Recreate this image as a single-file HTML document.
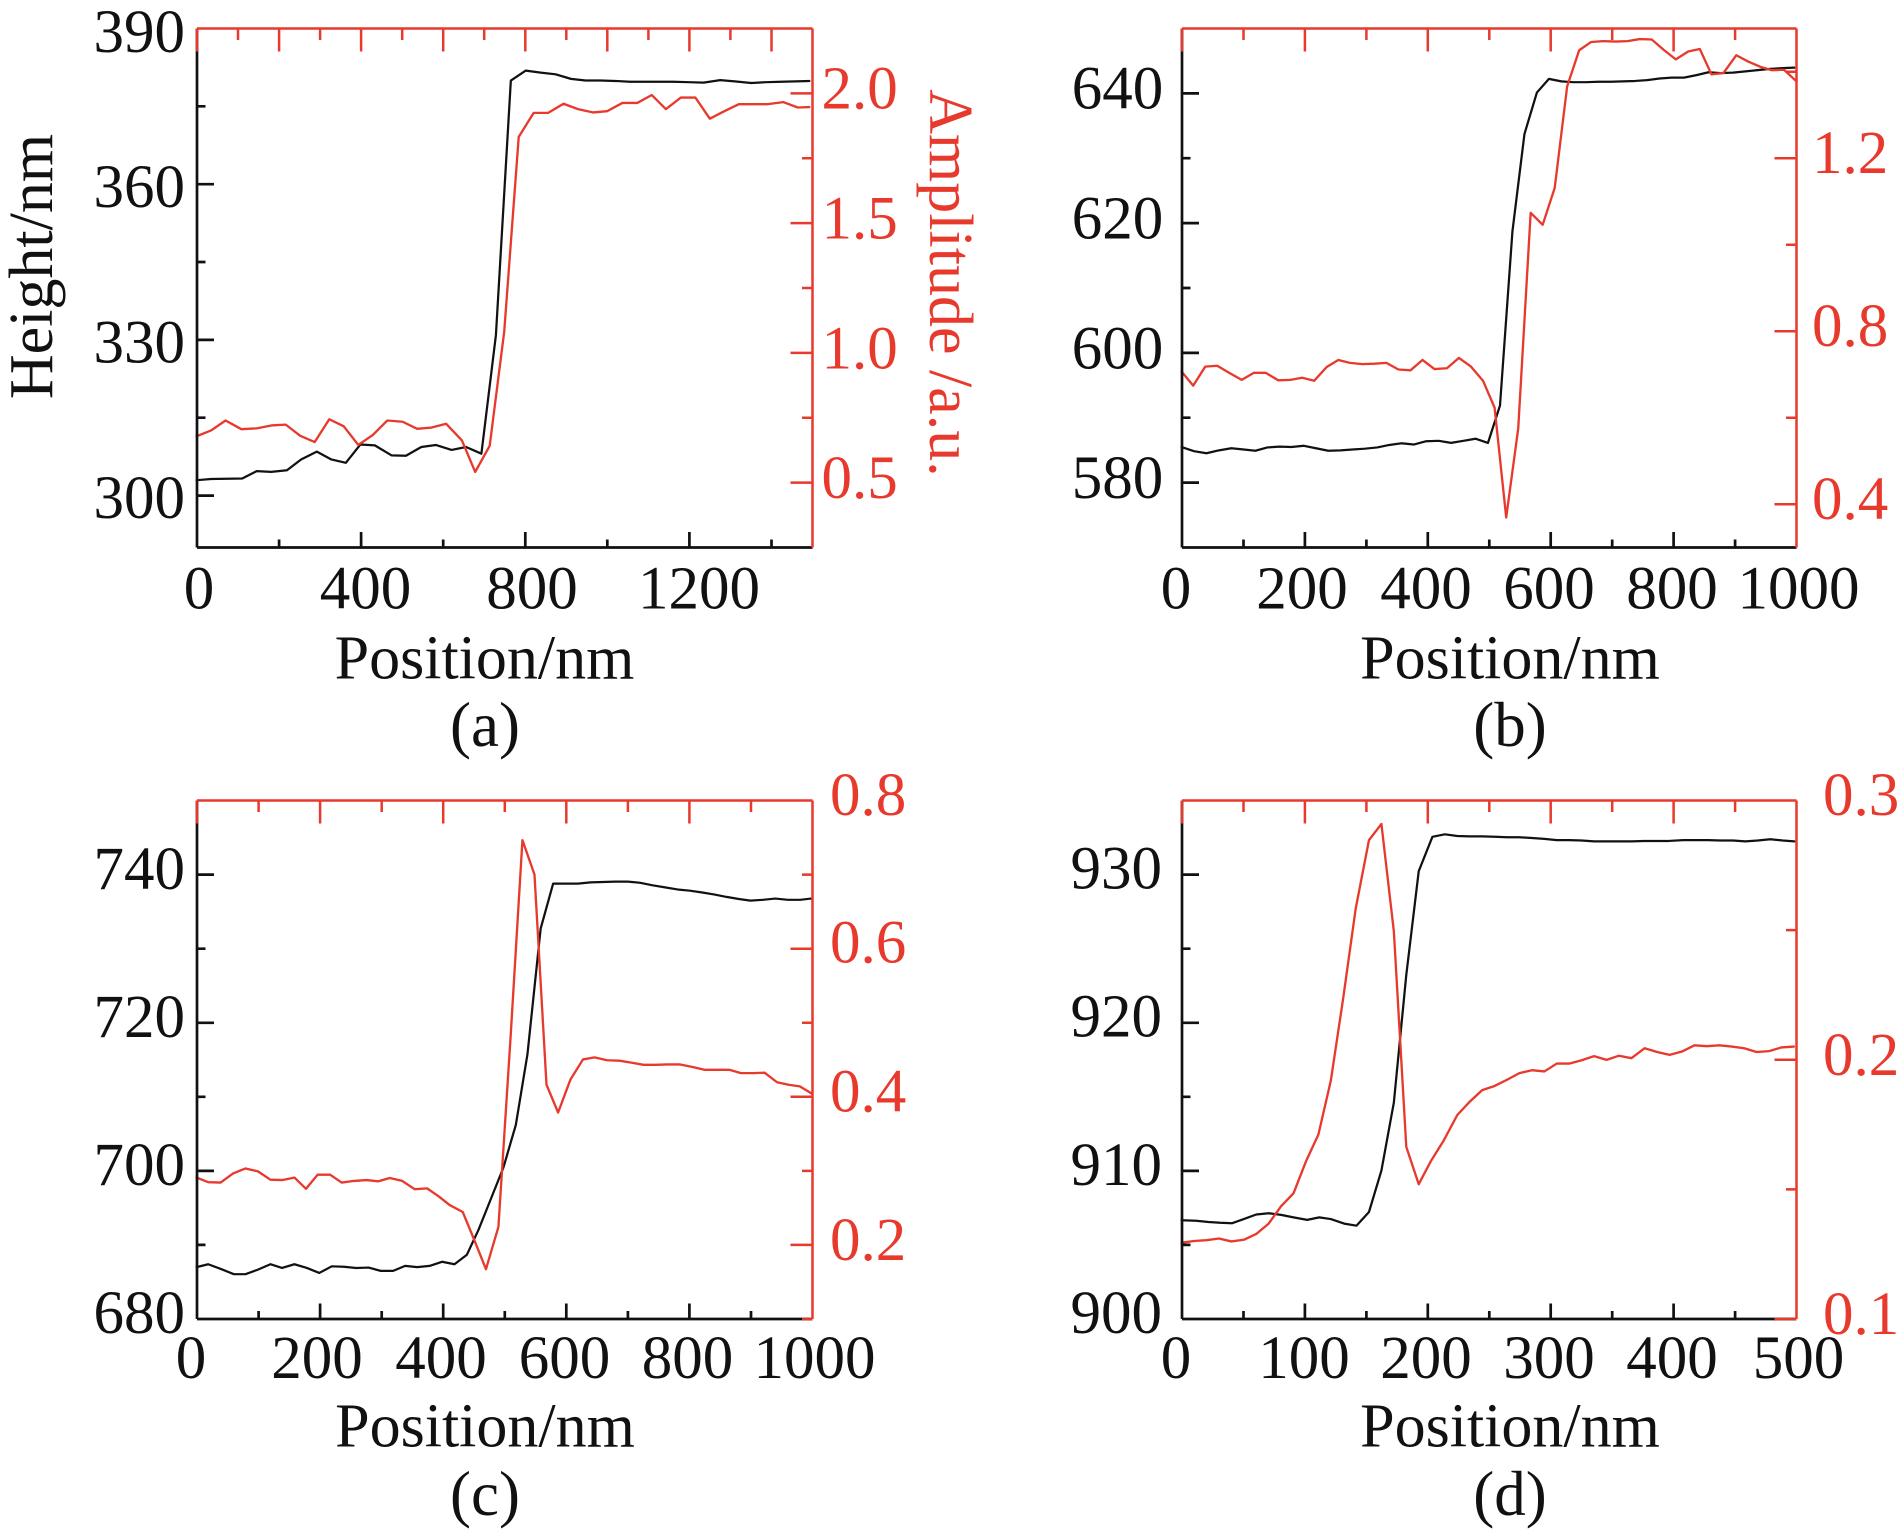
<!DOCTYPE html>
<html>
<head>
<meta charset="utf-8">
<style>
  html, body { margin: 0; padding: 0; background: #ffffff; }
  svg { display: block; }
  svg, text { font-family: "Liberation Serif", "Times New Roman", "DejaVu Serif", serif; }
  .tl { font-size: 61px; fill: #111; }
  .tr { font-size: 61px; fill: #e8392d; }
  .tt { font-size: 62px; fill: #111; }
  .ax { fill: none; stroke: #111; stroke-width: 2.7; stroke-linecap: butt; }
  .axr { fill: none; stroke: #e8392d; stroke-width: 2.5; stroke-linecap: butt; }
  .dk { fill: none; stroke: #111; stroke-width: 5.4; stroke-linejoin: round; stroke-linecap: round; }
  .dr { fill: none; stroke: #e8392d; stroke-width: 5.6; stroke-linejoin: round; stroke-linecap: round; }
</style>
</head>
<body>
<svg width="1900" height="1533" viewBox="0 0 1900 1533" xmlns="http://www.w3.org/2000/svg" font-family="'Liberation Serif', 'Times New Roman', serif">
<rect x="0" y="0" width="1900" height="1533" fill="#ffffff"/>

<!-- ================= PANEL A ================= -->
<g transform="translate(180,20) scale(0.41459)">
  <polyline class="dk" points="40,1110 75,1107 150,1106 185,1088 220,1090 258,1086 292,1060 330,1041 365,1060 400,1068 435,1024 470,1026 510,1050 545,1051 582,1030 617,1025 655,1037 690,1030 727,1046 762,760 798,146 834,122 870,127 906,131 943,142 978,146 1014,146 1050,147 1085,149 1120,149 1155,149 1190,149 1228,150 1263,151 1303,145 1338,148 1378,152 1413,150 1450,149 1485,148 1518,147"/>
  <polyline class="dr" points="40,1004 75,990 110,966 148,987 185,985 220,978 255,976 290,1003 325,1018 360,963 395,980 430,1025 465,1001 500,966 537,969 572,986 607,983 642,974 680,1014 712,1090 747,1027 782,752 817,282 853,224 888,224 925,202 960,215 997,223 1030,220 1067,200 1103,200 1138,181 1172,215 1208,187 1243,187 1278,238 1313,220 1348,203 1385,203 1418,203 1455,198 1490,211 1518,210"/>
</g>
<path class="ax" d="M197 28.5V547.5 M197 547.5H812.5
 M197 495.6h17 M197 339.9h17 M197 184.2h17
 M197 417.7h8.5 M197 262h8.5 M197 106.3h8.5
 M361.1 547.5v-15.5 M525.3 547.5v-15.5 M689.4 547.5v-15.5
 M279.1 547.5v-8 M443.2 547.5v-8 M607.3 547.5v-8 M771.5 547.5v-8"/>
<path class="axr" d="M197 28.5H812.5 M812.5 28.5V547.5
 M197 28.5v23 M279.1 28.5v23 M361.1 28.5v23 M443.2 28.5v23 M525.3 28.5v23 M607.3 28.5v23 M689.4 28.5v23 M771.5 28.5v23
 M238 28.5v11.5 M320.1 28.5v11.5 M402.2 28.5v11.5 M484.2 28.5v11.5 M566.3 28.5v11.5 M648.4 28.5v11.5 M730.4 28.5v11.5
 M812.5 482.6h-22 M812.5 352.9h-22 M812.5 223.1h-22 M812.5 93.4h-22
 M812.5 417.7h-10.5 M812.5 288h-10.5 M812.5 158.2h-10.5"/>
<text class="tl" x="185" y="52" text-anchor="end">390</text>
<text class="tl" x="185" y="207" text-anchor="end">360</text>
<text class="tl" x="185" y="362.5" text-anchor="end">330</text>
<text class="tl" x="185" y="518" text-anchor="end">300</text>
<text class="tr" x="821.5" y="108.3">2.0</text>
<text class="tr" x="821.5" y="238.3">1.5</text>
<text class="tr" x="821.5" y="368.3">1.0</text>
<text class="tr" x="821.5" y="498">0.5</text>
<text class="tl" x="199" y="608.3" text-anchor="middle">0</text>
<text class="tl" x="365.5" y="608.3" text-anchor="middle">400</text>
<text class="tl" x="532" y="608.3" text-anchor="middle">800</text>
<text class="tl" x="699" y="608.3" text-anchor="middle">1200</text>
<text class="tt" x="484.5" y="678.3" text-anchor="middle">Position/nm</text>
<text class="tt" x="485" y="746" text-anchor="middle" style="font-size:63px">(a)</text>
<text class="tt" transform="translate(52,266.5) rotate(-90)" text-anchor="middle">Height/nm</text>
<text class="tt" transform="translate(930,283) rotate(90)" text-anchor="middle" style="fill:#e8392d">Amplitude /a.u.</text>

<!-- ================= PANEL B ================= -->
<g transform="translate(1165,20) scale(0.41459)">
  <polyline class="dk" points="40,1030 70,1040 100,1045 130,1038 160,1033 190,1036 218,1039 247,1031 276,1029 305,1030 335,1027 364,1033 394,1039 423,1038 452,1036 482,1034 512,1031 541,1025 570,1021 600,1024 630,1016 660,1015 690,1020 720,1015 749,1010 779,1020 808,930 838,510 867,275 897,175 926,142 956,148 985,150 1015,150 1045,149 1075,149 1104,148 1134,147 1163,145 1193,141 1222,139 1252,139 1282,133 1311,126 1340,128 1370,127 1400,124 1430,121 1460,118 1490,116 1518,115"/>
  <polyline class="dr" points="40,848 68,882 97,836 126,834 155,851 185,868 214,851 243,851 273,869 302,868 331,863 360,870 390,837 418,820 446,827 476,830 505,829 534,827 563,843 592,845 621,820 650,842 680,840 709,815 738,836 767,870 795,935 823,1200 852,985 882,465 911,494 940,405 970,160 999,73 1028,53 1057,51 1087,52 1116,51 1145,46 1174,47 1203,72 1232,95 1262,76 1290,70 1318,131 1347,128 1378,85 1406,100 1436,113 1463,121 1493,120 1522,147"/>
</g>
<path class="ax" d="M1182 28.5V547.5 M1182 547.5H1796.5
 M1182 482.6h17 M1182 352.9h17 M1182 223.1h17 M1182 93.4h17
 M1182 417.7h8.5 M1182 288h8.5 M1182 158.2h8.5
 M1304.9 547.5v-15.5 M1427.8 547.5v-15.5 M1550.7 547.5v-15.5 M1673.6 547.5v-15.5
 M1243.5 547.5v-8 M1366.4 547.5v-8 M1489.3 547.5v-8 M1612.2 547.5v-8 M1735.1 547.5v-8"/>
<path class="axr" d="M1182 28.5H1796.5 M1796.5 28.5V547.5
 M1182 28.5v23 M1304.9 28.5v23 M1427.8 28.5v23 M1550.7 28.5v23 M1673.6 28.5v23
 M1243.5 28.5v11.5 M1366.4 28.5v11.5 M1489.3 28.5v11.5 M1612.2 28.5v11.5 M1735.1 28.5v11.5
 M1796.5 504.3h-22 M1796.5 331.3h-22 M1796.5 158.3h-22
 M1796.5 417.8h-10.5 M1796.5 244.8h-10.5 M1796.5 71.8h-10.5"/>
<text class="tl" x="1163.3" y="108.3" text-anchor="end">640</text>
<text class="tl" x="1163.3" y="238.3" text-anchor="end">620</text>
<text class="tl" x="1163.3" y="368.3" text-anchor="end">600</text>
<text class="tl" x="1163.3" y="498" text-anchor="end">580</text>
<text class="tr" x="1812" y="173">1.2</text>
<text class="tr" x="1812" y="346">0.8</text>
<text class="tr" x="1812" y="519">0.4</text>
<text class="tl" x="1176" y="608.3" text-anchor="middle">0</text>
<text class="tl" x="1302" y="608.3" text-anchor="middle">200</text>
<text class="tl" x="1426" y="608.3" text-anchor="middle">400</text>
<text class="tl" x="1549" y="608.3" text-anchor="middle">600</text>
<text class="tl" x="1672" y="608.3" text-anchor="middle">800</text>
<text class="tl" x="1798.5" y="608.3" text-anchor="middle">1000</text>
<text class="tt" x="1510" y="678.3" text-anchor="middle">Position/nm</text>
<text class="tt" x="1510" y="746" text-anchor="middle" style="font-size:63px">(b)</text>

<!-- ================= PANEL C ================= -->
<g transform="translate(180,780) scale(0.41459)">
  <polyline class="dk" points="40,1175 68,1168 100,1180 130,1192 158,1192 188,1181 218,1168 246,1177 276,1168 306,1177 336,1189 366,1173 395,1174 425,1177 455,1176 484,1184 514,1184 543,1172 572,1175 602,1172 632,1162 662,1168 692,1145 720,1085 750,1010 780,935 810,832 838,662 870,358 900,250 930,250 960,250 990,247 1020,246 1050,245 1080,245 1110,248 1140,254 1170,259 1200,264 1230,267 1258,271 1288,276 1318,282 1348,287 1376,291 1406,289 1436,286 1466,289 1496,289 1522,286"/>
  <polyline class="dr" points="40,959 68,970 98,971 128,949 158,937 188,944 218,964 246,965 276,959 304,986 332,952 362,952 390,971 420,967 450,965 478,968 506,960 536,967 566,987 596,985 625,1005 650,1025 682,1042 710,1110 738,1180 768,1078 798,610 826,145 855,228 884,735 912,802 942,722 972,674 1000,669 1030,676 1060,677 1090,682 1118,687 1148,687 1175,686 1205,686 1235,692 1265,699 1295,699 1325,699 1353,707 1382,707 1410,706 1440,729 1468,735 1495,739 1525,757"/>
</g>
<path class="ax" d="M197 800.5V1319 M197 1319H812.5
 M197 1170.9h17 M197 1022.8h17 M197 874.6h17
 M197 1244.9h8.5 M197 1096.8h8.5 M197 948.7h8.5
 M320.1 1319v-15.5 M443.2 1319v-15.5 M566.3 1319v-15.5 M689.4 1319v-15.5
 M258.6 1319v-8 M381.7 1319v-8 M504.8 1319v-8 M627.9 1319v-8 M751 1319v-8"/>
<path class="axr" d="M197 800.5H812.5 M812.5 800.5V1319
 M197 800.5v23 M320.1 800.5v23 M443.2 800.5v23 M566.3 800.5v23 M689.4 800.5v23
 M258.6 800.5v11.5 M381.7 800.5v11.5 M504.8 800.5v11.5 M627.9 800.5v11.5 M751 800.5v11.5
 M812.5 1244.9h-22 M812.5 1096.8h-22 M812.5 948.7h-22
 M812.5 1319h-10.5 M812.5 1170.9h-10.5 M812.5 1022.8h-10.5 M812.5 874.6h-10.5"/>
<text class="tl" x="185" y="889" text-anchor="end">740</text>
<text class="tl" x="185" y="1037" text-anchor="end">720</text>
<text class="tl" x="185" y="1185" text-anchor="end">700</text>
<text class="tl" x="185" y="1333" text-anchor="end">680</text>
<text class="tr" x="830" y="815">0.8</text>
<text class="tr" x="830" y="962.7">0.6</text>
<text class="tr" x="830" y="1111.7">0.4</text>
<text class="tr" x="830" y="1260">0.2</text>
<text class="tl" x="191" y="1378" text-anchor="middle">0</text>
<text class="tl" x="317" y="1378" text-anchor="middle">200</text>
<text class="tl" x="441" y="1378" text-anchor="middle">400</text>
<text class="tl" x="564.5" y="1378" text-anchor="middle">600</text>
<text class="tl" x="687.5" y="1378" text-anchor="middle">800</text>
<text class="tl" x="814.5" y="1378" text-anchor="middle">1000</text>
<text class="tt" x="485" y="1446.3" text-anchor="middle">Position/nm</text>
<text class="tt" x="485" y="1515" text-anchor="middle" style="font-size:63px">(c)</text>

<!-- ================= PANEL D ================= -->
<g transform="translate(1165,780) scale(0.41459)">
  <polyline class="dk" points="40,1062 75,1063 105,1066 133,1068 162,1069 190,1059 220,1048 250,1045 280,1049 310,1055 343,1061 372,1055 400,1059 432,1070 462,1075 492,1042 522,942 552,778 582,470 612,220 645,137 675,131 705,135 735,136 765,136 795,137 825,138 855,138 885,140 915,142 945,145 975,145 1005,146 1035,148 1065,148 1095,148 1125,148 1155,147 1185,147 1215,147 1250,145 1280,145 1310,145 1340,146 1370,146 1400,148 1430,146 1460,143 1490,146 1518,148"/>
  <polyline class="dr" points="40,1116 70,1112 100,1110 130,1106 160,1113 190,1109 220,1095 250,1070 280,1028 310,997 340,920 370,855 400,725 430,525 460,310 492,145 522,106 552,365 582,885 612,975 642,918 672,870 705,808 735,776 765,748 795,738 825,723 855,707 885,700 915,703 945,684 975,684 1005,676 1035,666 1065,675 1095,665 1125,671 1157,647 1187,656 1217,663 1247,655 1277,640 1307,642 1337,640 1367,643 1397,647 1427,656 1457,654 1487,645 1517,643"/>
</g>
<path class="ax" d="M1182 800.5V1319 M1182 1319H1796.5
 M1182 1170.9h17 M1182 1022.8h17 M1182 874.6h17
 M1182 1244.9h8.5 M1182 1096.8h8.5 M1182 948.7h8.5
 M1304.9 1319v-15.5 M1427.8 1319v-15.5 M1550.7 1319v-15.5 M1673.6 1319v-15.5
 M1243.5 1319v-8 M1366.4 1319v-8 M1489.3 1319v-8 M1612.2 1319v-8 M1735.1 1319v-8"/>
<path class="axr" d="M1182 800.5H1796.5 M1796.5 800.5V1319
 M1182 800.5v23 M1304.9 800.5v23 M1427.8 800.5v23 M1550.7 800.5v23 M1673.6 800.5v23
 M1243.5 800.5v11.5 M1366.4 800.5v11.5 M1489.3 800.5v11.5 M1612.2 800.5v11.5 M1735.1 800.5v11.5
 M1796.5 1319h-22 M1796.5 1059.8h-22
 M1796.5 1189.4h-10.5 M1796.5 930.1h-10.5"/>
<text class="tl" x="1162" y="888.3" text-anchor="end">930</text>
<text class="tl" x="1162" y="1036.7" text-anchor="end">920</text>
<text class="tl" x="1162" y="1185" text-anchor="end">910</text>
<text class="tl" x="1162" y="1333" text-anchor="end">900</text>
<text class="tr" x="1823" y="815">0.3</text>
<text class="tr" x="1823" y="1075">0.2</text>
<text class="tr" x="1823" y="1334">0.1</text>
<text class="tl" x="1176" y="1378" text-anchor="middle">0</text>
<text class="tl" x="1304" y="1378" text-anchor="middle">100</text>
<text class="tl" x="1426" y="1378" text-anchor="middle">200</text>
<text class="tl" x="1549" y="1378" text-anchor="middle">300</text>
<text class="tl" x="1672" y="1378" text-anchor="middle">400</text>
<text class="tl" x="1798.5" y="1378" text-anchor="middle">500</text>
<text class="tt" x="1510" y="1446.3" text-anchor="middle">Position/nm</text>
<text class="tt" x="1510" y="1515" text-anchor="middle" style="font-size:63px">(d)</text>
</svg>
</body>
</html>
